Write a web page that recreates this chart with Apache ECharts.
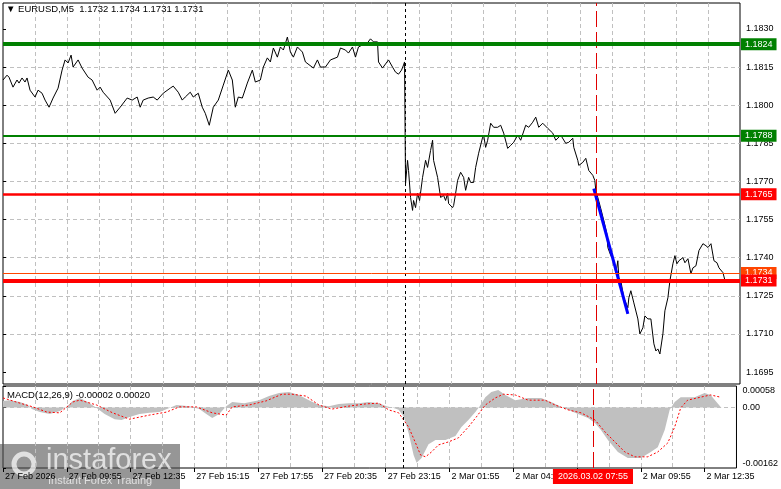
<!DOCTYPE html>
<html>
<head>
<meta charset="utf-8">
<script src="https://cdn.jsdelivr.net/npm/echarts@6/dist/echarts.min.js"></script>
<style>
html, body { margin: 0; padding: 0; background: #fff; }
#chart { width: 781px; height: 489px; }
</style>
</head>
<body>
<div id="chart"></div>
<script>
// EURUSD M5 - bar index counts 5 minute bars from 27 Feb 07:15
const timeLabels = ['27 Feb 2026', '27 Feb 09:55', '27 Feb 12:35', '27 Feb 15:15', '27 Feb 17:55', '27 Feb 20:35',
  '27 Feb 23:15', '2 Mar 01:55', '2 Mar 04:35', '2 Mar 07:15', '2 Mar 09:55', '2 Mar 12:35']
const labelStep = 32
const barMax = 368

const priceTicks = [1.1695, 1.1710, 1.1725, 1.1740, 1.1755, 1.1770, 1.1785, 1.1800, 1.1815, 1.1830]
const priceMin = 1.16903
const priceMax = 1.18402
const macdTicks = [-0.00162, 0, 0.00058]

// close prices (bar index, close)
const priceBars = [
  0, 2, 3, 5, 7, 8, 9.5, 11, 12, 13.5, 16, 17.5, 19.5, 21, 23, 25, 27.5, 29.5, 31, 32.5,
  34, 35, 37.5, 39.5, 42.5, 44.5, 47, 48.5, 50, 53.5, 56, 58.5, 62, 64.5, 67, 68.5, 70, 72.5, 75, 77,
  80, 83.5, 85, 87.5, 89.5, 91, 93.5, 95, 97.5, 99.5, 101, 103, 105, 107.5, 110, 112.5, 114.5, 116, 117.5, 119.5,
  122, 124.5, 126, 128.5, 130, 132, 133.5, 135, 137, 138.5, 140, 142, 143.5, 145, 147, 149.5, 151, 155, 157, 158.5,
  161, 163.5, 167, 168.5, 171, 172.5, 174.5, 176, 177.5, 179.5, 182, 183.5, 185, 187, 187.5, 189.5, 192.5, 194.5, 196, 197.5,
  199, 200, 200.5, 201, 202, 202.5, 203.5, 204.5, 205, 206, 207, 208, 209.5, 211, 212, 213.5, 214.5, 215, 217, 218.5,
  220, 221, 222, 222.5, 224.5, 225, 226, 227, 228.5, 230, 231, 232.5, 233.5, 235, 236, 237.5, 239.5, 240, 241, 242,
  243.5, 245, 247, 248.5, 250, 252, 253.5, 255, 257, 258.5, 261, 262.5, 264.5, 266, 267.5, 269.5, 272, 274.5, 276, 278.5,
  281, 282.5, 284.5, 285, 287, 287.5, 289.5, 291, 292.5, 294.5, 295.5, 296, 297, 298.5, 300, 301.5, 302, 303.5, 305, 306,
  307, 307.5, 308.5, 310, 312, 312.5, 313.5, 315, 317, 318, 319.5, 320.5, 322, 323.5, 325, 326, 327, 328, 329.5, 330.5,
  332, 333, 334.5, 335.5, 336.5, 337.5, 339.5, 340.5, 342, 343.5, 344.5, 346, 347.5, 349.5, 351, 352, 353.5, 355, 356.5, 357.5,
  359.5, 360.5
]
const priceCloses = [
  1.18099, 1.18118, 1.18110, 1.18071, 1.18099, 1.18087, 1.18107, 1.18091, 1.18107, 1.18059, 1.18032, 1.18059, 1.18047, 1.18020, 1.17992, 1.18028, 1.18067, 1.18138, 1.18178, 1.18166,
  1.18197, 1.18150, 1.18178, 1.18146, 1.18110, 1.18099, 1.18059, 1.18071, 1.18051, 1.18020, 1.17968, 1.17992, 1.18028, 1.18020, 1.18032, 1.17992, 1.18020, 1.18028, 1.18032, 1.18020,
  1.18047, 1.18067, 1.18075, 1.18051, 1.18020, 1.18032, 1.18051, 1.18032, 1.18047, 1.17992, 1.17968, 1.17921, 1.17992, 1.18020, 1.18079, 1.18138, 1.18099, 1.17992, 1.18032, 1.18028,
  1.18087, 1.18138, 1.18091, 1.18099, 1.18150, 1.18186, 1.18170, 1.18225, 1.18189, 1.18229, 1.18217, 1.18268, 1.18209, 1.18189, 1.18229, 1.18209, 1.18170, 1.18146, 1.18178, 1.18150,
  1.18150, 1.18178, 1.18189, 1.18225, 1.18217, 1.18205, 1.18229, 1.18189, 1.18229, 1.18237, 1.18245, 1.18261, 1.18249, 1.18249, 1.18170, 1.18146, 1.18178, 1.18150, 1.18130, 1.18122,
  1.18138, 1.18158, 1.18170, 1.17692, 1.17783, 1.17743, 1.17637, 1.17586, 1.17625, 1.17597, 1.17653, 1.17625, 1.17716, 1.17783, 1.17755, 1.17822, 1.17862, 1.17783, 1.17716, 1.17637,
  1.17645, 1.17625, 1.17653, 1.17613, 1.17597, 1.17605, 1.17653, 1.17704, 1.17736, 1.17716, 1.17665, 1.17716, 1.17696, 1.17696, 1.17755, 1.17811, 1.17874, 1.17882, 1.17834, 1.17862,
  1.17929, 1.17913, 1.17913, 1.17921, 1.17890, 1.17830, 1.17842, 1.17854, 1.17882, 1.17862, 1.17921, 1.17913, 1.17933, 1.17953, 1.17913, 1.17929, 1.17909, 1.17890, 1.17862, 1.17882,
  1.17850, 1.17854, 1.17870, 1.17834, 1.17783, 1.17763, 1.17775, 1.17791, 1.17743, 1.17724, 1.17704, 1.17665, 1.17637, 1.17593, 1.17546, 1.17495, 1.17440, 1.17408, 1.17388, 1.17337,
  1.17388, 1.17321, 1.17309, 1.17242, 1.17203, 1.17242, 1.17270, 1.17222, 1.17159, 1.17100, 1.17124, 1.17171, 1.17159, 1.17159, 1.17061, 1.17033, 1.17041, 1.17021, 1.17100, 1.17191,
  1.17242, 1.17309, 1.17376, 1.17408, 1.17376, 1.17388, 1.17400, 1.17380, 1.17396, 1.17337, 1.17360, 1.17368, 1.17428, 1.17455, 1.17447, 1.17440, 1.17455, 1.17388, 1.17380, 1.17360,
  1.17341, 1.17310
]

// blue trend line drawn on the chart
const trendBars = [295, 312]
const trendPrices = [1.17672, 1.17179]

// horizontal levels
const levelPrices = [1.1824, 1.1788, 1.1765, 1.1734, 1.1731]
const levelStyles = [
  { color: '#008000', width: 4 },
  { color: '#008000', width: 2 },
  { color: '#ff0000', width: 2.5 },
  { color: '#ff4500', width: 1 },
  { color: '#ff0000', width: 4 }
]

// MACD(12,26,9) histogram
const histBars = [
  0, 3.5, 8.5, 12.5, 14.5, 18.5, 23.5, 28.5, 32, 35, 38.5, 42.5, 47, 51, 56, 59.5, 63.5, 68.5, 73.5, 78.5,
  83.5, 87, 93.5, 98.5, 102, 105, 108.5, 112, 115, 121, 128.5, 133.5, 138.5, 143.5, 148.5, 153.5, 158.5, 163.5, 168.5, 173.5,
  178.5, 183.5, 188.5, 192.5, 196, 198.5, 201, 203.5, 206, 207.5, 210, 213.5, 217, 222, 227, 230, 233.5, 237, 239, 242,
  245, 248.5, 252, 257, 263.5, 270, 275, 280, 287, 293.5, 297, 300, 303.5, 308.5, 313.5, 320, 325, 328.5, 332, 334.5,
  337, 340, 347, 352, 355, 358.5, 360.5
]
const histValues = [
  0.00018, 0.00020, 0.00015, 0.00007, -0.00004, -0.00012, -0.00017, -0.00009, 0.00002, 0.00018, 0.00026, 0.00015, -0.00001, -0.00017, -0.00031, -0.00033, -0.00025, -0.00017, -0.00014, -0.00012,
  -0.00001, 0.00007, 0.00004, -0.00004, -0.00017, -0.00028, -0.00017, 0.00004, 0.00015, 0.00012, 0.00020, 0.00031, 0.00039, 0.00042, 0.00034, 0.00020, 0.00007, 0.00004, 0.00010, 0.00012,
  0.00012, 0.00015, 0.00012, 0.00004, -0.00001, -0.00006, -0.00023, -0.00068, -0.00127, -0.00148, -0.00135, -0.00098, -0.00087, -0.00087, -0.00076, -0.00052, -0.00033, -0.00012, 0.00002, 0.00028,
  0.00042, 0.00047, 0.00034, 0.00020, 0.00026, 0.00026, 0.00015, 0.00002, -0.00014, -0.00028, -0.00041, -0.00060, -0.00087, -0.00119, -0.00135, -0.00135, -0.00119, -0.00106, -0.00060, -0.00006,
  0.00015, 0.00028, 0.00028, 0.00039, 0.00034, 0.00012, -0.00001
]

// MACD signal line
const signalBars = [
  0, 8.5, 15, 22, 28.5, 35, 38.5, 47, 55, 63.5, 73.5, 82, 88.5, 97, 105, 112, 115, 123.5, 132, 140,
  145, 152, 158.5, 165, 173.5, 182, 188.5, 193.5, 198.5, 203.5, 207, 209.5, 212, 215, 218.5, 223.5, 228.5, 233.5, 237.5, 242,
  247, 251, 257, 263.5, 272, 277, 283.5, 290, 297, 302, 307, 312, 317, 323.5, 328.5, 333.5, 337, 340, 343.5, 350,
  355, 360
]
const signalValues = [
  0.00026, 0.00012, 0.00002, -0.00012, -0.00014, 0.00015, 0.00020, 0.00007, -0.00014, -0.00031, -0.00020, -0.00012, 0.00002, 0.00002, -0.00014, -0.00020, 0.00002, 0.00007, 0.00018, 0.00036,
  0.00036, 0.00031, 0.00007, -0.00004, 0.00004, 0.00010, 0.00012, -0.00006, -0.00014, -0.00052, -0.00095, -0.00127, -0.00132, -0.00119, -0.00100, -0.00092, -0.00081, -0.00052, -0.00025, 0.00007,
  0.00026, 0.00036, 0.00034, 0.00020, 0.00020, 0.00007, -0.00006, -0.00014, -0.00033, -0.00065, -0.00092, -0.00119, -0.00132, -0.00132, -0.00119, -0.00095, -0.00052, -0.00001, 0.00020, 0.00028,
  0.00034, 0.00028
]

const daySeparatorBar = 201
const cursorBar = 296
const cursorLabel = '2026.03.02 07:55'

const FONT = 'Liberation Sans'
const gridDash = { color: '#c0c0c0', type: [4, 3], width: 1 }

function pairs(xs, ys) {
  return xs.map((x, i) => [x, ys[i]])
}

function verticalLines(withLabel) {
  return {
    symbol: ['none', 'none'],
    silent: true,
    animation: false,
    precision: 6,
    data: [
      { xAxis: daySeparatorBar, lineStyle: { color: '#000', type: [3, 3], width: 1 }, label: { show: false } },
      {
        xAxis: cursorBar,
        lineStyle: { color: '#e00000', type: [16, 5], width: 1 },
        label: withLabel ? {
          show: true, position: 'start', distance: 1, formatter: cursorLabel,
          backgroundColor: '#ff0000', color: '#fff', padding: [3, 5, 3, 5],
          fontSize: 9, fontFamily: FONT
        } : { show: false }
      }
    ]
  }
}

// horizontal levels with price boxes on the axis
function levelLines() {
  return {
    symbol: ['none', 'none'], silent: true, animation: false,
    precision: 6,
    data: levelPrices.map((p, i) => ({
      yAxis: p,
      lineStyle: { color: levelStyles[i].color, width: levelStyles[i].width, type: 'solid' },
      label: {
        show: true, position: 'end', distance: 1, formatter: p.toFixed(4),
        backgroundColor: levelStyles[i].color, color: '#fff',
        padding: [2, 4, 1, 4], fontSize: 9, fontFamily: FONT
      }
    }))
  }
}

const chart = echarts.init(document.getElementById('chart'))

const option = {
  animation: false,
  backgroundColor: '#fff',
  textStyle: { fontFamily: FONT },
  grid: [
    { left: 3, top: 3, width: 737, height: 381, show: true, borderColor: '#000', borderWidth: 1, backgroundColor: 'transparent' },
    { left: 3, top: 386, width: 737, height: 82, show: true, borderColor: '#000', borderWidth: 1, backgroundColor: 'transparent' }
  ],
  xAxis: [
    {
      type: 'value', gridIndex: 0, min: 0, max: barMax, interval: 16,
      axisLine: { show: false }, axisTick: { show: false }, axisLabel: { show: false },
      splitLine: { show: true, showMinLine: false, showMaxLine: false, lineStyle: gridDash }
    },
    {
      type: 'value', gridIndex: 1, min: 0, max: barMax, interval: 16,
      axisLine: { show: false }, axisTick: { show: false }, axisLabel: { show: false },
      splitLine: { show: true, showMinLine: false, showMaxLine: false, lineStyle: gridDash }
    },
    {
      type: 'value', gridIndex: 1, min: 0, max: barMax, position: 'bottom',
      axisLine: { show: false },
      axisTick: { show: true, customValues: timeLabels.map((_, i) => i * labelStep), length: 4, lineStyle: { color: '#000' } },
      axisLabel: {
        show: true, customValues: timeLabels.map((_, i) => i * labelStep),
        formatter: v => timeLabels[Math.round(v / labelStep)] || '',
        align: 'left', margin: 4, padding: [0, 0, 0, 2], color: '#000', fontSize: 9, fontFamily: FONT
      },
      splitLine: { show: false }
    }
  ],
  yAxis: [
    {
      type: 'value', gridIndex: 0, position: 'right', min: priceMin, max: priceMax,
      axisLine: { show: false },
      axisTick: { show: true, customValues: priceTicks, length: 3, lineStyle: { color: '#000' } },
      axisLabel: { customValues: priceTicks, formatter: v => v.toFixed(4), color: '#000', fontSize: 9, margin: 6, fontFamily: FONT },
      splitLine: { show: true, showMinLine: false, showMaxLine: false, lineStyle: gridDash }
    },
    {
      type: 'value', gridIndex: 1, position: 'right', min: macdTicks[0], max: macdTicks[2],
      axisLine: { show: false },
      axisTick: { show: true, customValues: macdTicks, length: 3, lineStyle: { color: '#000' } },
      axisLabel: {
        customValues: macdTicks, formatter: v => v === 0 ? '0.00' : v.toFixed(5),
        color: '#000', fontSize: 9, margin: 6, fontFamily: FONT,
        verticalAlignMaxLabel: 'top', verticalAlignMinLabel: 'bottom'
      },
      splitLine: { show: true, showMinLine: false, showMaxLine: false, lineStyle: gridDash }
    }
  ],
  series: [
    {
      name: 'EURUSD', type: 'line', xAxisIndex: 0, yAxisIndex: 0, z: 3,
      data: pairs(priceBars, priceCloses),
      showSymbol: false, symbol: 'none',
      lineStyle: { color: '#000', width: 1 },
      markLine: verticalLines(false)
    },
    {
      name: 'trend', type: 'line', xAxisIndex: 0, yAxisIndex: 0, z: 4,
      data: pairs(trendBars, trendPrices),
      showSymbol: false, symbol: 'none',
      lineStyle: { color: '#0000ff', width: 3 },
      markLine: levelLines()
    },
    {
      name: 'MACD', type: 'line', xAxisIndex: 1, yAxisIndex: 1, z: 2,
      data: pairs(histBars, histValues),
      showSymbol: false, symbol: 'none',
      lineStyle: { width: 0 },
      areaStyle: { color: '#c0c0c0', opacity: 1 },
      markLine: verticalLines(true)
    },
    {
      name: 'Signal', type: 'line', xAxisIndex: 1, yAxisIndex: 1, z: 3,
      data: pairs(signalBars, signalValues),
      showSymbol: false, symbol: 'none',
      lineStyle: { color: '#ff0000', width: 1, type: [2, 2] }
    }
  ],
  graphic: [
    {
      type: 'text', left: 6, top: 4, z: 10,
      style: { text: '▼ EURUSD,M5  1.1732 1.1734 1.1731 1.1731', fill: '#000', font: '9.5px "Liberation Sans"' }
    },
    {
      type: 'text', left: 7, top: 390, z: 10,
      style: { text: 'MACD(12,26,9) -0.00002 0.00020', fill: '#000', font: '9.5px "Liberation Sans"' }
    },
    {
      type: 'group', left: 0, top: 444, z: 20,
      children: [
        { type: 'rect', shape: { x: 0, y: 0, width: 180, height: 45 }, style: { fill: 'rgba(80,80,80,0.6)' } },
        { type: 'circle', shape: { cx: 24, cy: 20, r: 10 }, style: { fill: 'none', stroke: 'rgba(255,255,255,0.7)', lineWidth: 5 } },
        { type: 'text', x: 46, y: 2, style: { text: 'instaforex', fill: 'rgba(255,255,255,0.7)', font: '29px "Liberation Sans"' } },
        { type: 'text', x: 48, y: 31, style: { text: 'Instant Forex Trading', fill: 'rgba(255,255,255,0.7)', font: '11px "Liberation Sans"' } }
      ]
    }
  ]
}

chart.setOption(option)
</script>
</body>
</html>
